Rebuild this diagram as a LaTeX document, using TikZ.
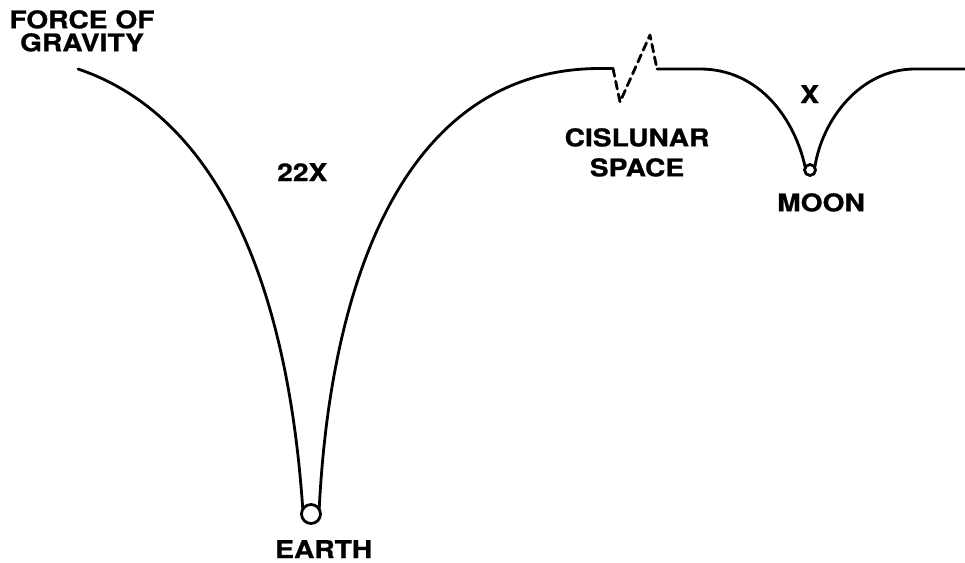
\documentclass[tikz,border=0pt]{standalone}
\usepackage{fontspec}
\newfontfamily\lblfont{TeX Gyre Heros}[FakeStretch=1.15, BoldFeatures={FakeBold=0.8}]
\usetikzlibrary{positioning}
\tikzset{
  lbl/.style={inner sep=0pt, align=center, font=\lblfont\bfseries\fontsize{24.5}{#1}\selectfont},
  lbl/.default=23,
  well/.style={line width=2.8pt, line cap=round, line join=round},
  gap/.style={well, dash pattern=on 8pt off 5pt},
}

\begin{document}
\begin{tikzpicture}[x=1pt, y=-1pt]
  \useasboundingbox (0,0) rectangle (965,562);
  % labels
  \node[lbl=23, anchor=north] (force) at (82,10) {FORCE OF\\GRAVITY};
  \node[lbl, anchor=north west] (ratio) at (277,163) {22X};
  \node[lbl=30, anchor=north] (cis) at (637,128) {CISLUNAR\\SPACE};
  \node[lbl, anchor=north west] (unit) at (800,85) {X};
  \node[lbl, anchor=north west] (moonlbl) at (777,193) {MOON};
  \node[lbl, anchor=north west] (earthlbl) at (275,540) {EARTH};
  % bodies
  \draw[well] (311,514) circle (9.5);
  \draw[well] (810,170) circle (5.5);
  % earth well
  \draw[well] (78,69) .. controls (200,110) and (285,250) .. (302.8,509.2);
  \draw[well] (319.2,509.2) .. controls (330,290) and (400,68.5) .. (600,68.5)
    -- (613,68.5);
  % break in cislunar space
  \draw[gap] (613,68.5) -- (620,102) -- (650,35) -- (657,69);
  % moon well
  \draw[well] (657,69) -- (700,69) .. controls (760,69) and (795,120) .. (805.2,167.3);
  \draw[well] (814.8,167.3) .. controls (822,120) and (860,69) .. (915,69)
    -- (965,69);
\end{tikzpicture}
\end{document}
